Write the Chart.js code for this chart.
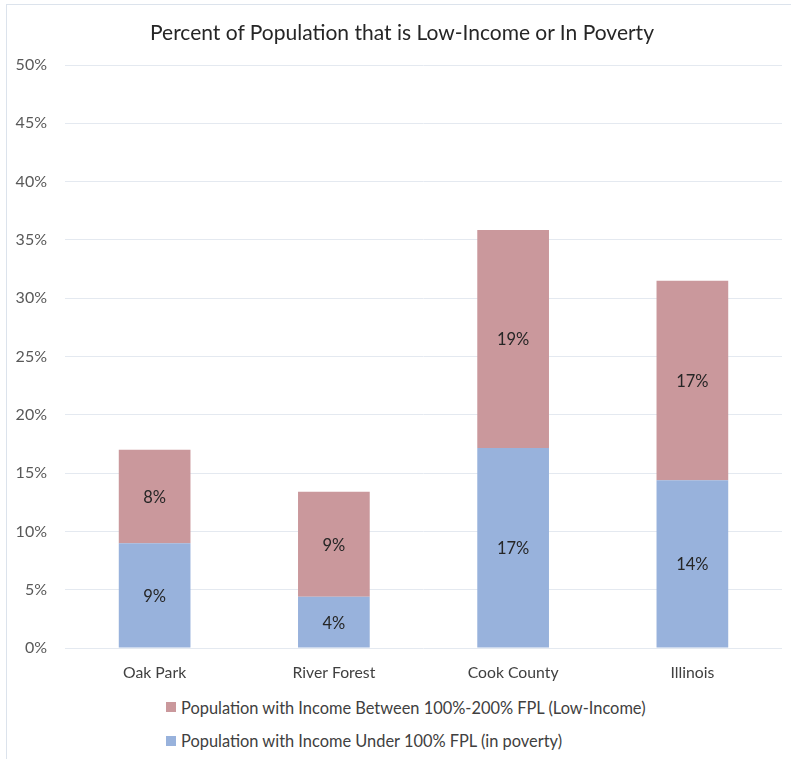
<!DOCTYPE html>
<html>
<head>
<meta charset="utf-8">
<script src="https://cdn.jsdelivr.net/npm/chart.js@4/dist/chart.umd.min.js"></script>
<style>
  html, body { margin: 0; padding: 0; background: #ffffff; }
  #frame {
    position: relative;
    width: 785px; height: 755px;
    margin: 4px 0 0 6px;
    border-top: 1px solid #dce3ec;
    border-left: 1px solid #dce3ec;
    box-sizing: border-box;
  }
  #title {
    position: absolute; left: 15px; top: 14px; width: 760px;
    text-align: center; line-height: 25.2px;
    font-family: Lato, "Open Sans", sans-serif; font-size: 21px; color: #262626;
    white-space: nowrap;
  }
  #chartBox { position: absolute; left: -7px; top: -5px; width: 791px; height: 689px; }
  #legend {
    position: absolute; left: 159px; top: 692px;
    font-family: Lato, "Open Sans", sans-serif; font-size: 16.4px; color: #404040;
  }
  .item { display: flex; align-items: center; height: 20px; margin-bottom: 13.5px; white-space: nowrap; }
  .swatch { width: 10px; height: 10px; margin-right: 5px; flex: none; }
</style>
</head>
<body>
<div id="frame">
  <div id="chartBox"><canvas id="chart"></canvas></div>
  <div id="title">Percent of Population that is Low-Income or In Poverty</div>
  <div id="legend"></div>
</div>
<script>
// Share of residents by income band, in percent
const places = ['Oak Park', 'River Forest', 'Cook County', 'Illinois'];
const underPoverty = [9.0, 4.4, 17.15, 14.4];     // income under 100% FPL
const lowIncome = [8.0, 9.0, 18.7, 17.1];         // income between 100% and 200% FPL
const yTicks = [0, 5, 10, 15, 20, 25, 30, 35, 40, 45, 50];

const seriesNames = [
  'Population with Income Under 100% FPL (in poverty)',
  'Population with Income Between 100%-200% FPL (Low-Income)'
];
const blue = '#98b2dc';
const rose = '#ca989c';
const FONT = 'Lato, "Open Sans", sans-serif';

// Prints each segment's rounded value in the middle of its bar
const segmentLabels = {
  id: 'segmentLabels',
  afterDatasetsDraw(chart) {
    const ctx = chart.ctx;
    ctx.save();
    ctx.font = '16.5px ' + FONT;
    ctx.fillStyle = '#262626';
    ctx.textAlign = 'center';
    ctx.textBaseline = 'middle';
    chart.data.datasets.forEach((ds, di) => {
      const meta = chart.getDatasetMeta(di);
      meta.data.forEach((bar, i) => {
        const p = bar.getCenterPoint();
        ctx.fillText(Math.round(ds.data[i]) + '%', p.x, p.y + 1);
      });
    });
    ctx.restore();
  }
};

const chart = new Chart(document.getElementById('chart'), {
  type: 'bar',
  data: {
    labels: places,
    datasets: [
      { label: seriesNames[0], data: underPoverty, backgroundColor: blue },
      { label: seriesNames[1], data: lowIncome, backgroundColor: rose }
    ]
  },
  options: {
    responsive: true,
    maintainAspectRatio: false,
    animation: false,
    layout: { padding: { left: 0, right: 9, top: 65, bottom: 0 } },
    datasets: { bar: { categoryPercentage: 0.4, barPercentage: 1 } },
    plugins: {
      legend: { display: false },
      tooltip: { enabled: false },
      title: { display: false }
    },
    scales: {
      x: {
        stacked: true,
        grid: { display: false },
        border: { display: false },
        ticks: { color: '#404040', font: { family: FONT, size: 15.75 }, padding: 7 }
      },
      y: {
        stacked: true,
        min: 0,
        max: 50,
        afterBuildTicks(scale) { scale.ticks = yTicks.map(v => ({ value: v })); },
        afterFit(scale) { scale.width = 65; },
        grid: { color: '#e4e9f0', lineWidth: 1, drawTicks: false },
        border: { display: false },
        ticks: {
          color: '#595959',
          font: { family: FONT, size: 16 },
          padding: 18,
          callback: v => v + '%'
        }
      }
    }
  },
  plugins: [segmentLabels]
});

// Legend rows, top series first
const legend = document.getElementById('legend');
[[seriesNames[1], rose], [seriesNames[0], blue]].forEach(([name, color]) => {
  const row = document.createElement('div');
  row.className = 'item';
  const sw = document.createElement('span');
  sw.className = 'swatch';
  sw.style.background = color;
  const tx = document.createElement('span');
  tx.textContent = name;
  row.appendChild(sw);
  row.appendChild(tx);
  legend.appendChild(row);
});
</script>
</body>
</html>
